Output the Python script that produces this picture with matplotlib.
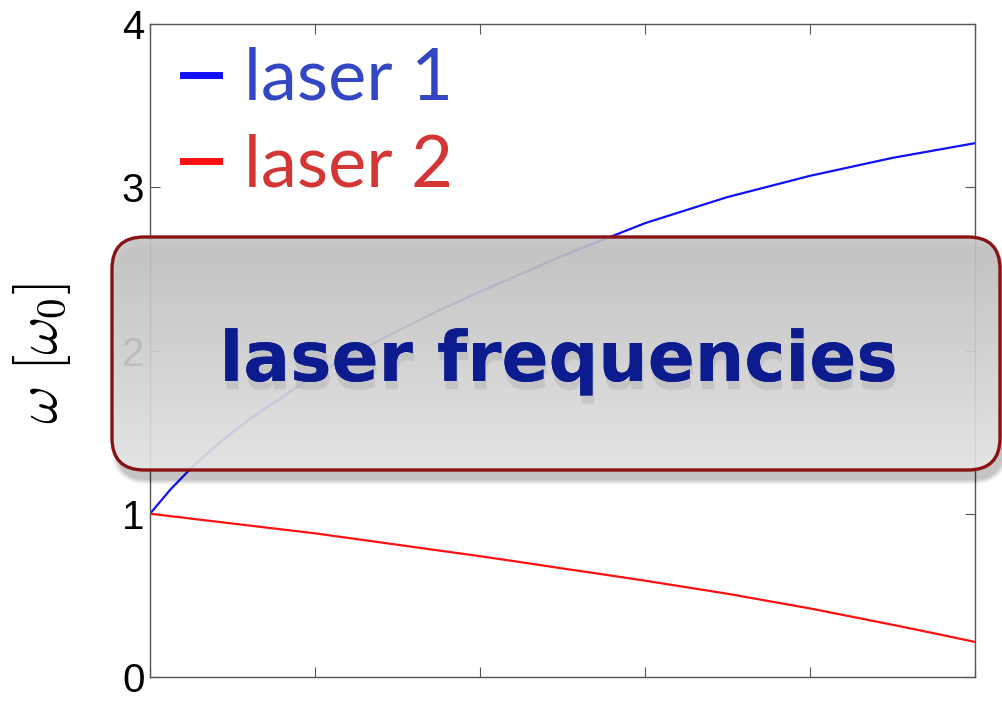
import numpy as np
import matplotlib
matplotlib.use("Agg")
import matplotlib.pyplot as plt
from matplotlib.patches import FancyBboxPatch
import matplotlib.patheffects as pe

# ---- data ----
x_vals = [0.0, 0.0125, 0.025, 0.0375, 0.05, 0.075, 0.1, 0.125, 0.15, 0.175, 0.2, 0.25, 0.3, 0.35,
          0.4, 0.45, 0.5, 0.55, 0.6, 0.65, 0.7, 0.75, 0.8, 0.85, 0.9, 0.95, 1.0]
laser1 = [1.00, 1.075, 1.15, 1.215, 1.28, 1.395, 1.50, 1.595, 1.68, 1.765, 1.85, 1.99, 2.12, 2.245,
          2.36, 2.47, 2.58, 2.68, 2.78, 2.86, 2.94, 3.005, 3.07, 3.125, 3.18, 3.225, 3.27]
laser2 = [1.00, 0.993, 0.985, 0.978, 0.97, 0.955, 0.94, 0.925, 0.91, 0.895, 0.88, 0.845, 0.81, 0.775,
          0.74, 0.703, 0.665, 0.628, 0.59, 0.55, 0.51, 0.465, 0.42, 0.37, 0.32, 0.268, 0.215]
y_ticks = [0, 1, 2, 3, 4]
x_ticks = [0.0, 0.2, 0.4, 0.6, 0.8, 1.0]
series_labels = ["laser 1", "laser 2"]
overlay_text = "laser frequencies"

plt.rcParams['mathtext.fontset'] = 'cm'
W, H = 1003, 702
fig = plt.figure(figsize=(W / 100, H / 100), dpi=100)
ax = fig.add_axes([150 / W, 1 - 677 / H, 825 / W, 653 / H])

ax.plot(x_vals, laser1, color='#1010ff', lw=1.6, label=series_labels[0])
ax.plot(x_vals, laser2, color='#ff1010', lw=1.6, label=series_labels[1])
ax.set_xlim(0, 1)
ax.set_ylim(0, 4)
ax.set_xticks(x_ticks)
ax.set_xticklabels([])
ax.set_yticks(y_ticks)
ax.set_yticklabels([str(v) for v in y_ticks], fontfamily='Liberation Sans', fontsize=29)
ax.tick_params(direction='in', length=7, width=0.8, color='#555555', top=True, right=True, pad=4)
for s in ax.spines.values():
    s.set_color('#555555')
    s.set_linewidth(1.0)
ax.set_ylabel(r'$\omega\ [\omega_0]$', fontsize=42)
ax.yaxis.set_label_coords(-77 / 825, 0.495)

leg = ax.legend(loc='upper left', frameon=False, handlelength=0.5, handletextpad=0.35,
                prop={'family': 'Lato', 'size': 52}, borderaxespad=0.0, borderpad=0.0,
                bbox_to_anchor=(183 / W, 1 - 47 / H), bbox_transform=fig.transFigure,
                labelspacing=0.3)
txtcols = ['#3347c4', '#d43535']
for t, c in zip(leg.get_texts(), txtcols):
    t.set_color(c)
for h in leg.get_lines():
    h.set_linewidth(5)

# ---- overlay box ----
ov = fig.add_axes([0, 0, 1, 1], facecolor='none')
ov.set_xlim(0, W)
ov.set_ylim(H, 0)
ov.axis('off')

bx0, bx1, by0, by1 = 112, 1000, 237, 470
rad = 32
# shadow
for k, a in zip(range(6), [0.05, 0.05, 0.05, 0.04, 0.03, 0.02]):
    sh = FancyBboxPatch((bx0 + 4 - k, by0 + 10 - k), bx1 - bx0 + 2 * k, by1 - by0 + 2 * k,
                        boxstyle=f"round,pad=0,rounding_size={rad + k}",
                        facecolor='#000000', edgecolor='none', alpha=a, zorder=1)
    ov.add_patch(sh)

clip = FancyBboxPatch((bx0, by0), bx1 - bx0, by1 - by0,
                      boxstyle=f"round,pad=0,rounding_size={rad}",
                      facecolor='none', edgecolor='none', zorder=2)
ov.add_patch(clip)
grad = np.linspace(0, 1, 256).reshape(-1, 1)
img = ov.imshow(grad, cmap=matplotlib.colors.LinearSegmentedColormap.from_list(
    'g', ['#c2c2c2', '#d4d4d4', '#e8e8e8']), extent=(bx0, bx1, by1, by0),
    origin='upper', aspect='auto', alpha=0.9, zorder=2, interpolation='bilinear')
img.set_clip_path(clip)
ov.set_xlim(0, W)
ov.set_ylim(H, 0)

border = FancyBboxPatch((bx0, by0), bx1 - bx0, by1 - by0,
                        boxstyle=f"round,pad=0,rounding_size={rad}",
                        facecolor='none', edgecolor='#8a1212', lw=2.4, zorder=3)
ov.add_patch(border)

ov.text(559, 381, overlay_text, ha='center', va='baseline', fontsize=50,
        fontfamily='DejaVu Sans', fontweight='bold', color='#0c1c8e', zorder=4,
        path_effects=[pe.withSimplePatchShadow(offset=(1, -6), shadow_rgbFace='#a0a0a0', alpha=0.3),
                      pe.Normal()])

fig.savefig('out.png', dpi=100)
